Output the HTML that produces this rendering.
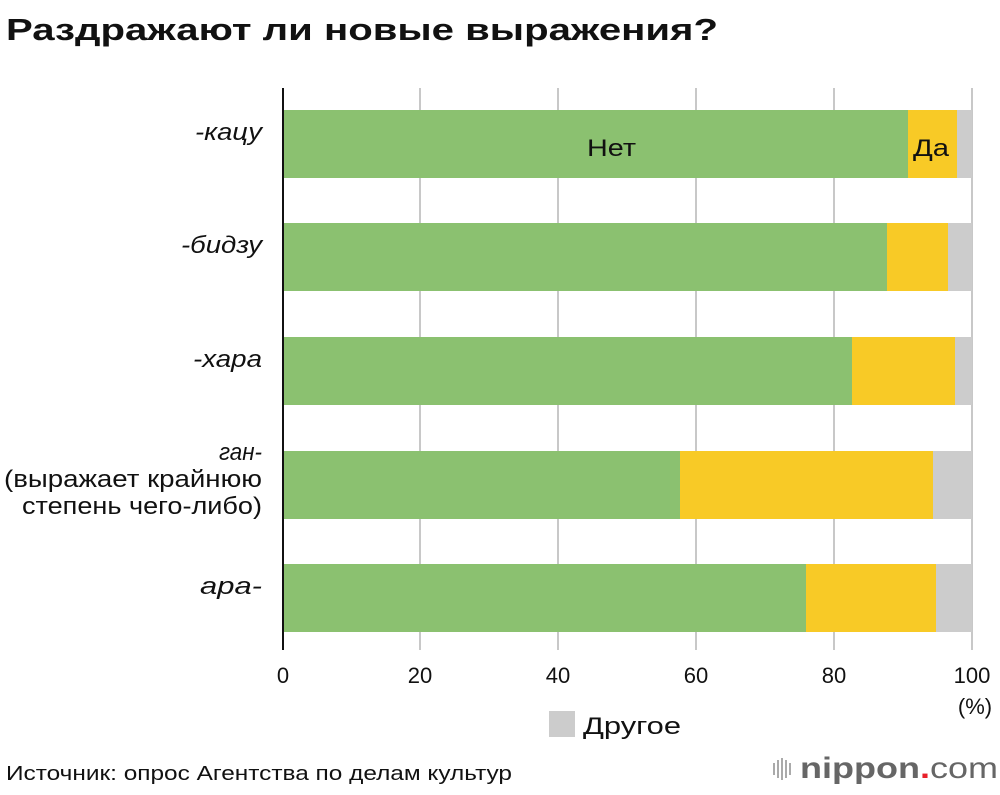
<!DOCTYPE html>
<html><head><meta charset="utf-8"><style>
body{margin:0;background:#fff;width:1000px;height:790px;overflow:hidden;font-family:"Liberation Sans","DejaVu Sans",sans-serif;}
</style></head><body>
<svg width="1000" height="790" xmlns="http://www.w3.org/2000/svg" font-family="Liberation Sans, DejaVu Sans, sans-serif">
<text x="6" y="40" font-size="31" font-weight="bold" fill="#111" textLength="712" lengthAdjust="spacingAndGlyphs">Раздражают ли новые выражения?</text>
<g stroke="#c8c8c8" stroke-width="2">
<line x1="420" y1="88" x2="420" y2="650"/><line x1="558" y1="88" x2="558" y2="650"/><line x1="696" y1="88" x2="696" y2="650"/><line x1="834" y1="88" x2="834" y2="650"/><line x1="972" y1="88" x2="972" y2="650"/>
</g>
<g>
<rect x="283" y="110" width="625" height="68" fill="#8bc170"/><rect x="908" y="110" width="49" height="68" fill="#f8ca26"/><rect x="957" y="110" width="15" height="68" fill="#cccccc"/>
<rect x="283" y="223" width="604" height="68" fill="#8bc170"/><rect x="887" y="223" width="61" height="68" fill="#f8ca26"/><rect x="948" y="223" width="24" height="68" fill="#cccccc"/>
<rect x="283" y="337" width="569" height="68" fill="#8bc170"/><rect x="852" y="337" width="103" height="68" fill="#f8ca26"/><rect x="955" y="337" width="17" height="68" fill="#cccccc"/>
<rect x="283" y="451" width="397" height="68" fill="#8bc170"/><rect x="680" y="451" width="253" height="68" fill="#f8ca26"/><rect x="933" y="451" width="39" height="68" fill="#cccccc"/>
<rect x="283" y="564" width="523" height="68" fill="#8bc170"/><rect x="806" y="564" width="130" height="68" fill="#f8ca26"/><rect x="936" y="564" width="36" height="68" fill="#cccccc"/>
</g>
<line x1="283" y1="88" x2="283" y2="650" stroke="#111" stroke-width="2"/>
<text x="587" y="156" font-size="24" fill="#111" textLength="49" lengthAdjust="spacingAndGlyphs">Нет</text>
<text x="913" y="156" font-size="24" fill="#111" textLength="36" lengthAdjust="spacingAndGlyphs">Да</text>
<g font-size="24" font-style="italic" fill="#111" lengthAdjust="spacingAndGlyphs">
<text x="195" y="140" textLength="67" lengthAdjust="spacingAndGlyphs">-кацу</text>
<text x="181" y="253" textLength="81" lengthAdjust="spacingAndGlyphs">-бидзу</text>
<text x="193" y="367" textLength="69" lengthAdjust="spacingAndGlyphs">-хара</text>
<text x="219" y="460" textLength="43" lengthAdjust="spacingAndGlyphs">ган-</text>
<text x="4" y="487" font-style="normal" textLength="258" lengthAdjust="spacingAndGlyphs">(выражает крайнюю</text>
<text x="22" y="514" font-style="normal" textLength="240" lengthAdjust="spacingAndGlyphs">степень чего-либо)</text>
<text x="200" y="594" textLength="62" lengthAdjust="spacingAndGlyphs">ара-</text>
</g>
<g font-size="22" text-anchor="middle" fill="#111">
<text x="283" y="683">0</text><text x="420" y="683">20</text><text x="558" y="683">40</text><text x="696" y="683">60</text><text x="834" y="683">80</text><text x="972" y="683">100</text>
<text x="975" y="714">(%)</text>
</g>
<rect x="549" y="711" width="26" height="26" fill="#cccccc"/>
<text x="583" y="734" font-size="24" fill="#111" textLength="98" lengthAdjust="spacingAndGlyphs">Другое</text>
<text x="6" y="780" font-size="20" fill="#111" textLength="506" lengthAdjust="spacingAndGlyphs">Источник: опрос Агентства по делам культур</text>
<g fill="#aaa"><rect x="773" y="763" width="2" height="12"/><rect x="777" y="760" width="2" height="18"/><rect x="781" y="758" width="2" height="22"/><rect x="785" y="760" width="2" height="18"/><rect x="789" y="763" width="2" height="12"/></g>
<text x="800" y="778" font-size="30" font-weight="bold" fill="#666" textLength="198" lengthAdjust="spacingAndGlyphs">nippon<tspan fill="#e8202a">.</tspan><tspan font-weight="normal">com</tspan></text>
</svg>
</body></html>
